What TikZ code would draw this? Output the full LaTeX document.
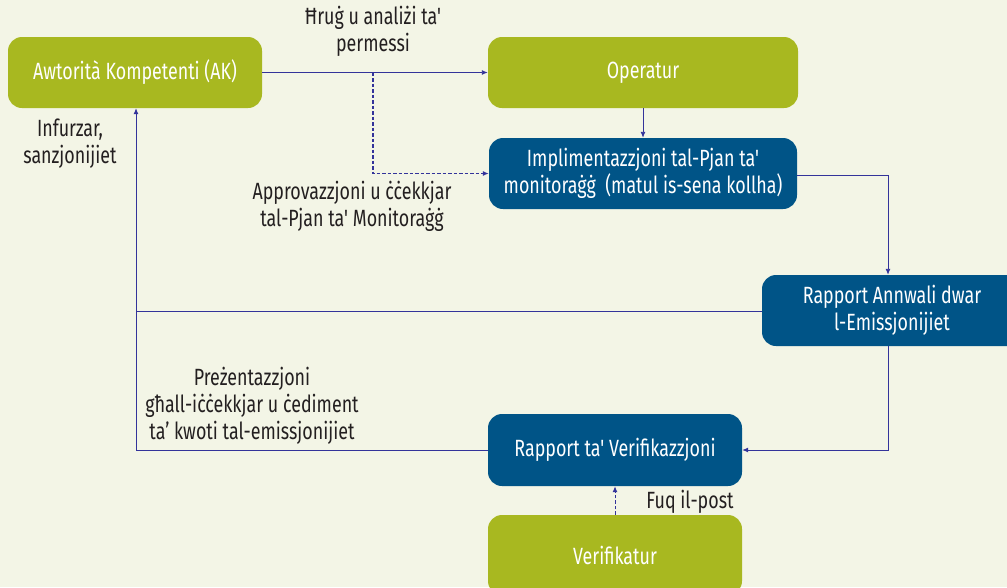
\documentclass[tikz,border=0pt]{standalone}
\usepackage{fontspec}
\setmainfont[FakeStretch=0.76,Ligatures=TeXOff]{Fira Sans}
\usetikzlibrary{arrows.meta}
\definecolor{bg}{HTML}{F3F5E6}
\definecolor{grn}{HTML}{A8B820}
\definecolor{blu}{HTML}{005487}
\definecolor{lin}{HTML}{33339A}
\definecolor{txt}{HTML}{231F20}
\begin{document}
\begin{tikzpicture}[x=1pt,y=-1pt,
  box/.style={rounded corners=14pt,text=white,align=center,inner sep=0pt,font=\fontsize{23.5}{27}\selectfont},
  gbox/.style={box,fill=grn},
  bbox/.style={box,fill=blu},
  conn/.style={draw=lin,line width=0.9pt,-{Latex[length=6pt,width=5pt]}},
  dash2/.style={dash pattern=on 3.5pt off 2pt,line width=1.4pt},
  plain/.style={draw=lin,line width=0.9pt},
  lab/.style={text=txt,align=center,font=\fontsize{23.5}{27}\selectfont,inner sep=0pt}]
\fill[bg] (0,0) rectangle (1007,587);
\useasboundingbox (0,0) rectangle (1007,587);
\node[gbox,minimum width=254pt,minimum height=71pt] (ak) at (135,72.5) {Awtorità Kompetenti (AK)};
\node[gbox,minimum width=310pt,minimum height=71pt] (op) at (643,72.5) {Operatur};
\node[bbox,minimum width=308pt,minimum height=71pt] (im) at (643,173.5) {Implimentazzjoni tal-Pjan ta'\\monitoraġġ\ \ (matul is-sena kollha)};
\node[bbox,minimum width=260pt,minimum height=71pt] (ra) at (892,310.5) {Rapport Annwali dwar\\l-Emissjonijiet};
\node[bbox,minimum width=254pt,minimum height=72pt] (rv) at (615,450) {Rapport ta' Verifikazzjoni};
\node[gbox,minimum width=254pt,minimum height=80pt] (vf) at (615,555) {Verifikatur};
\coordinate (d1) at (373,72.5);
\coordinate (d2) at (373,173.5);
\coordinate (c1) at (888,175);
\coordinate (c2) at (136,311);
\coordinate (c3) at (888,450);
\coordinate (c4) at (136,450);
\path[conn] (ak.east) -- (op.west);
\path[conn,dash2] (d1) -- (d2) -- (im.west);
\path[conn] (op.south) -- (im.north);
\path[conn] (im.east |- c1) -- (c1) -- (c1 |- ra.north);
\path[conn] (ra.west |- c2) -- (c2) -- (c2 |- ak.south);
\path[conn] (ra.south -| c3) -- (c3) -- (rv.east);
\path[plain] (rv.west) -- (c4) -- (c2);
\path[conn,dash2,line width=1pt] (vf.north) -- (rv.south);
\node[lab] (l1) at (373,31) {Ħruġ u analiżi ta'\\permessi};
\node[lab] (l2) at (70,144) {Infurzar,\\sanzjonijiet};
\node[lab] (l3) at (352,206) {Approvazzjoni u ċċekkjar\\tal-Pjan ta' Monitoraġġ};
\node[lab] (l4) at (252,406) {Preżentazzjoni\\għall-iċċekkjar u ċediment\\ta’ kwoti tal-emissjonijiet};
\node[lab] (l5) at (690,502) {Fuq il-post};
\end{tikzpicture}
\end{document}
